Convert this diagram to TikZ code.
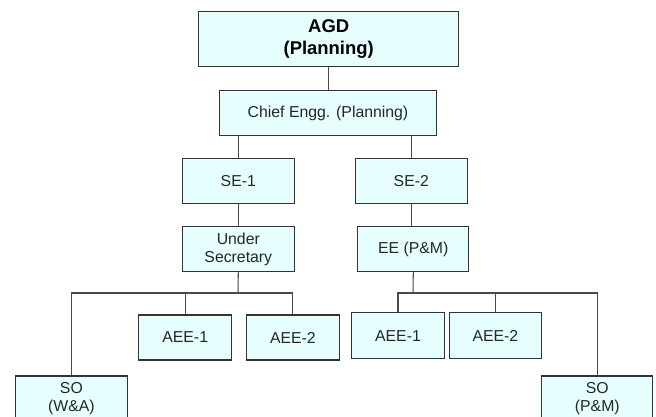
\documentclass[tikz,border=0pt]{standalone}
\usepackage{fontspec}
\setmainfont{Liberation Sans}
\usepackage{tikz}
\usetikzlibrary{calc}

\definecolor{boxfill}{HTML}{E6FEFE}
\definecolor{boxline}{HTML}{333333}
\definecolor{wire}{HTML}{4A4A4A}

\begin{document}
\begin{tikzpicture}[x = 0.02cm, y = -0.02cm,
		post/.style = {draw = boxline, fill = boxfill, line width = 0.6pt, inner sep = 0pt,
			minimum height = 45*0.02cm, align = center, text = black!85,
			font = \fontsize{9}{10.2}\selectfont},
		wide/.style = {post, minimum width = 112*0.02cm},
		small/.style = {post, minimum width = 92.5*0.02cm},
		wire/.style = {draw = wire, line width = 0.6pt}]
			\useasboundingbox (0, 0) rectangle (656, 416);
			\clip (0, 0) rectangle (656, 416);
			% top of the chart
			\node[post, minimum width = 260*0.02cm, minimum height = 55.7*0.02cm,
				font = \fontsize{10.5}{12.5}\selectfont\bfseries, text = black] (agd) at (328.7, 38.9) {AGD\\(Planning)};
			\node[post, minimum width = 217.4*0.02cm] (chief) at (328, 113) {Chief Engg. (Planning)};
			\node[wide] (se1) at (238.3, 181.2) {SE-1};
			\node[wide] (se2) at (411.3, 181.2) {SE-2};
			\node[wide] (usec) at (238.3, 249.2) {Under\\Secretary};
			\node[wide, minimum width = 110.7*0.02cm] (eepm) at (413.3, 249.2) {EE (P\&M)};
			% lower row
			\node[small] (aeeA) at (185.2, 337.5) {AEE-1};
			\node[small] (aeeB) at (292.9, 337.5) {AEE-2};
			\node[small, minimum height = 46*0.02cm] (aeeC) at (398, 335.6) {AEE-1};
			\node[small, minimum height = 46*0.02cm] (aeeD) at (495.4, 335.6) {AEE-2};
			\node[post, minimum width = 111.3*0.02cm] (sowa) at (71.4, 398.5) {SO\\(W\&A)};
			\node[post, minimum width = 111.3*0.02cm] (sopm) at (597.3, 398.5) {SO\\(P\&M)};
			% connectors
			\coordinate (busL) at (238, 293);
			\coordinate (busR) at (413, 293);
			\draw[wire] (agd.south) -- (agd.south |- chief.north);
			\draw[wire] (se1.north) -- (se1.north |- chief.south);
			\draw[wire] (se2.north) -- (se2.north |- chief.south);
			\draw[wire] (se1) -- (usec);
			\draw[wire] (se2.south) -- (se2.south |- eepm.north);
			\draw[wire] (usec.south) -- (busL);
			\draw[wire] (sowa.north) |- (aeeB.north |- busL) -- (aeeB.north);
			\draw[wire] (aeeA.north) -- (aeeA.north |- busL);
			\draw[wire] (eepm.south) -- (busR);
			\draw[wire] (aeeC.north) |- (sopm.north |- busR) -- (sopm.north);
			\draw[wire] (aeeD.north) -- (aeeD.north |- busR);
		\end{tikzpicture}
\end{document}
